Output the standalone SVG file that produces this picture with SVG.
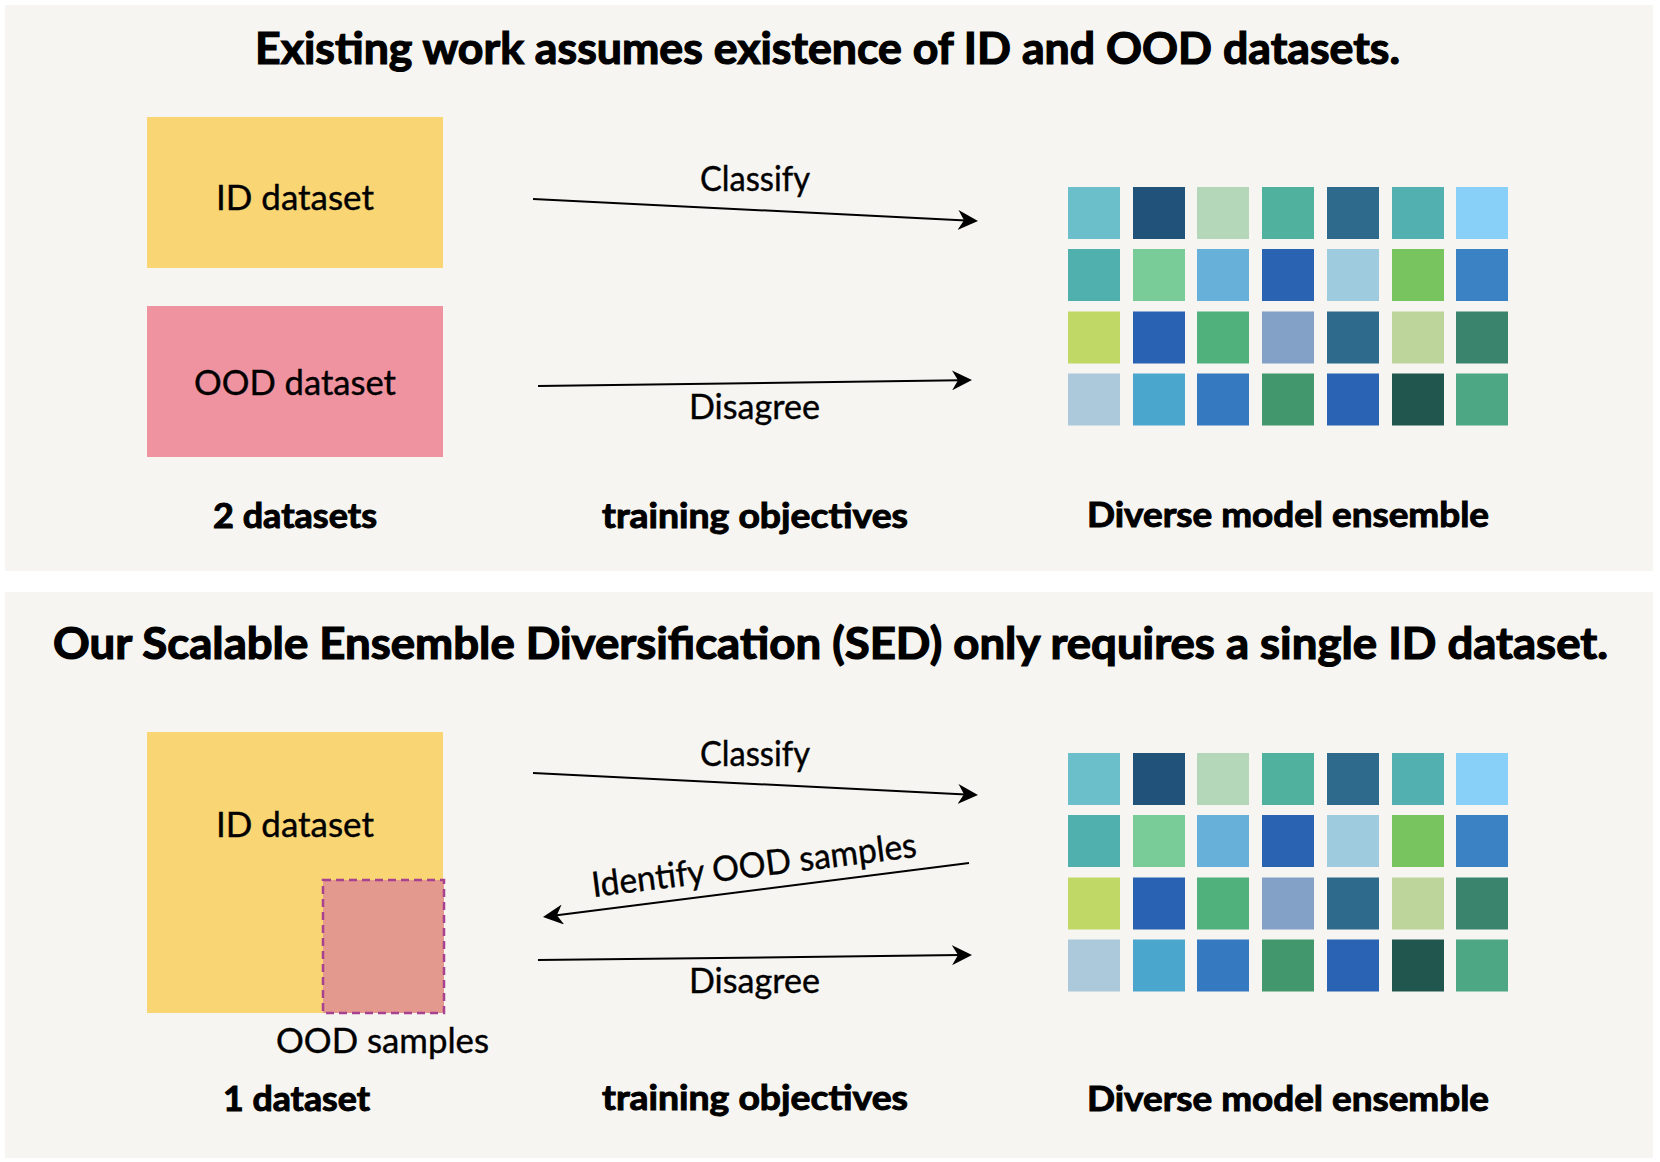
<svg xmlns="http://www.w3.org/2000/svg" xmlns:xlink="http://www.w3.org/1999/xlink" width="1660" height="1162" viewBox="0 0 1660 1162">
  <style>
    .panel { fill: #f6f5f1; }
    .title { font-family: Lato, "Liberation Sans", sans-serif; font-weight: bold; font-size: 43px; fill: #000; stroke: #000; stroke-width: 1.2px; }
    .lbl { font-family: Lato, "Liberation Sans", sans-serif; font-size: 35px; fill: #000; stroke: #000; stroke-width: 0.4px; }
    .blbl { font-family: Lato, "Liberation Sans", sans-serif; font-weight: bold; font-size: 35px; fill: #000; stroke: #000; stroke-width: 1px; }
    .conn { stroke: #000; stroke-width: 2; fill: none; marker-end: url(#arrow); }
    .id { fill: #f9d673; }
    .ood { fill: #f093a0; }
  </style>
  <defs>
    <marker id="arrow" viewBox="0 0 20 20" refX="8" refY="10" markerWidth="20" markerHeight="20" markerUnits="userSpaceOnUse" orient="auto">
      <path d="M0,0 L20,10 L0,20 L6,10 Z" fill="#000"/>
    </marker>
    <g id="grid">
      <rect x="1068" y="0" width="52" height="52" fill="#6abfca"/>
      <rect x="1133" y="0" width="52" height="52" fill="#21527a"/>
      <rect x="1197" y="0" width="52" height="52" fill="#b3d7b8"/>
      <rect x="1262" y="0" width="52" height="52" fill="#51b19f"/>
      <rect x="1327" y="0" width="52" height="52" fill="#2d6a8c"/>
      <rect x="1392" y="0" width="52" height="52" fill="#52b0b1"/>
      <rect x="1456" y="0" width="52" height="52" fill="#89d0f9"/>
      <rect x="1068" y="62" width="52" height="52" fill="#50b0ae"/>
      <rect x="1133" y="62" width="52" height="52" fill="#79cb98"/>
      <rect x="1197" y="62" width="52" height="52" fill="#67b0d9"/>
      <rect x="1262" y="62" width="52" height="52" fill="#2b63b3"/>
      <rect x="1327" y="62" width="52" height="52" fill="#9ecbdd"/>
      <rect x="1392" y="62" width="52" height="52" fill="#78c560"/>
      <rect x="1456" y="62" width="52" height="52" fill="#3b82c4"/>
      <rect x="1068" y="124.5" width="52" height="52" fill="#bfd866"/>
      <rect x="1133" y="124.5" width="52" height="52" fill="#2a62b3"/>
      <rect x="1197" y="124.5" width="52" height="52" fill="#50b17d"/>
      <rect x="1262" y="124.5" width="52" height="52" fill="#83a0c7"/>
      <rect x="1327" y="124.5" width="52" height="52" fill="#2e6a8c"/>
      <rect x="1392" y="124.5" width="52" height="52" fill="#bdd59b"/>
      <rect x="1456" y="124.5" width="52" height="52" fill="#3a846e"/>
      <rect x="1068" y="186.5" width="52" height="52" fill="#acc9dc"/>
      <rect x="1133" y="186.5" width="52" height="52" fill="#4ba6cd"/>
      <rect x="1197" y="186.5" width="52" height="52" fill="#3579c0"/>
      <rect x="1262" y="186.5" width="52" height="52" fill="#42976d"/>
      <rect x="1327" y="186.5" width="52" height="52" fill="#2b63b4"/>
      <rect x="1392" y="186.5" width="52" height="52" fill="#21564e"/>
      <rect x="1456" y="186.5" width="52" height="52" fill="#4da784"/>
    </g>
  </defs>

  <rect x="0" y="0" width="1660" height="1162" fill="#ffffff"/>

  <!-- Top panel -->
  <g id="panel-top">
    <rect class="panel" x="5" y="5" width="1648" height="566"/>
    <text class="title" x="827.5" y="64" text-anchor="middle" textLength="1145" lengthAdjust="spacingAndGlyphs">Existing work assumes existence of ID and OOD datasets.</text>
  </g>
  <g id="top-id-dataset">
    <rect class="id" x="147" y="117" width="296" height="151"/>
    <text class="lbl" x="295" y="210" text-anchor="middle" textLength="158" lengthAdjust="spacingAndGlyphs">ID dataset</text>
  </g>
  <g id="top-ood-dataset">
    <rect class="ood" x="147" y="306" width="296" height="151"/>
    <text class="lbl" x="295" y="395" text-anchor="middle" textLength="202" lengthAdjust="spacingAndGlyphs">OOD dataset</text>
  </g>
  <g id="top-ensemble">
    <use xlink:href="#grid" href="#grid" transform="translate(0,187)"/>
  </g>
  <g id="top-labels">
    <text class="lbl" x="755" y="191" text-anchor="middle" textLength="110" lengthAdjust="spacingAndGlyphs">Classify</text>
    <text class="lbl" x="754.5" y="419" text-anchor="middle" textLength="131" lengthAdjust="spacingAndGlyphs">Disagree</text>
    <text class="blbl" x="295" y="528" text-anchor="middle" textLength="164" lengthAdjust="spacingAndGlyphs">2 datasets</text>
    <text class="blbl" x="755" y="528" text-anchor="middle" textLength="306" lengthAdjust="spacingAndGlyphs">training objectives</text>
    <text class="blbl" x="1288" y="527" text-anchor="middle" textLength="402" lengthAdjust="spacingAndGlyphs">Diverse model ensemble</text>
  </g>

  <!-- Bottom panel -->
  <g id="panel-bottom">
    <rect class="panel" x="5" y="592" width="1648" height="566"/>
    <text class="title" x="830.5" y="659" text-anchor="middle" textLength="1555" lengthAdjust="spacingAndGlyphs">Our Scalable Ensemble Diversification (SED) only requires a single ID dataset.</text>
  </g>
  <g id="bottom-id-dataset">
    <rect class="id" x="147" y="732" width="296" height="281"/>
    <text class="lbl" x="295" y="837" text-anchor="middle" textLength="158" lengthAdjust="spacingAndGlyphs">ID dataset</text>
  </g>
  <g id="bottom-ood-samples">
    <rect x="323" y="880" width="121" height="133" fill="#e3998e" stroke="#a8418f" stroke-width="2.5" stroke-dasharray="8,5"/>
    <text class="lbl" x="382.5" y="1053" text-anchor="middle" textLength="213" lengthAdjust="spacingAndGlyphs">OOD samples</text>
  </g>
  <g id="bottom-ensemble">
    <use xlink:href="#grid" href="#grid" transform="translate(0,753)"/>
  </g>
  <g id="bottom-labels">
    <text class="lbl" x="755" y="766" text-anchor="middle" textLength="110" lengthAdjust="spacingAndGlyphs">Classify</text>
    <text class="lbl" x="755.5" y="877" text-anchor="middle" textLength="327" lengthAdjust="spacingAndGlyphs" transform="rotate(-7.1 755.5 877)">Identify OOD samples</text>
    <text class="lbl" x="754.5" y="993" text-anchor="middle" textLength="131" lengthAdjust="spacingAndGlyphs">Disagree</text>
    <text class="blbl" x="296.5" y="1111" text-anchor="middle" textLength="147" lengthAdjust="spacingAndGlyphs">1 dataset</text>
    <text class="blbl" x="755" y="1110" text-anchor="middle" textLength="306" lengthAdjust="spacingAndGlyphs">training objectives</text>
    <text class="blbl" x="1288" y="1111" text-anchor="middle" textLength="402" lengthAdjust="spacingAndGlyphs">Diverse model ensemble</text>
  </g>

  <!-- Connectors -->
  <g id="connectors">
    <line class="conn" x1="533" y1="199" x2="966" y2="220.4"/>
    <line class="conn" x1="538" y1="386" x2="960" y2="380.2"/>
    <line class="conn" x1="533" y1="773" x2="966" y2="794.4"/>
    <line class="conn" x1="969" y1="863" x2="554.9" y2="915.5"/>
    <line class="conn" x1="538" y1="960" x2="960" y2="955.1"/>
  </g>
</svg>
